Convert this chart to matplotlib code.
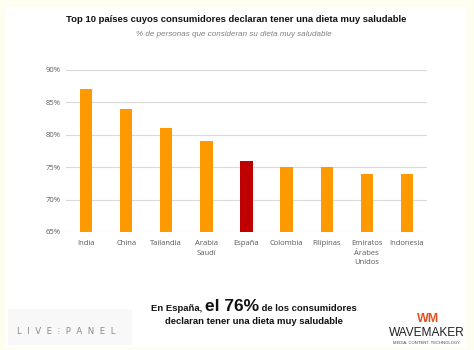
import matplotlib
matplotlib.use("Agg")
import matplotlib.pyplot as plt
from matplotlib.patches import Rectangle
import numpy as np

# datos: % de personas que consideran su dieta muy saludable
paises = ["India", "China", "Tailandia", "Arabia\nSaudí", "España", "Colombia",
          "Filipinas", "Emiratos\nÁrabes\nUnidos", "Indonesia"]
valores = [87, 84, 81, 79, 76, 75, 75, 74, 74]
destacado = "España"

naranja = "#FF9900"
rojo = "#C00000"

fig = plt.figure(figsize=(4.74, 3.5), dpi=100)
fig.patch.set_facecolor("#FDFDF0")
# panel blanco sobre el marco crema
fig.patches.append(Rectangle((5 / 474, 3 / 350), 461 / 474, 340 / 350,
                             transform=fig.transFigure, facecolor="white",
                             edgecolor="none", zorder=-2))
fig.patches.append(Rectangle((8 / 474, 5 / 350), 124 / 474, 36 / 350,
                             transform=fig.transFigure, facecolor="#F8F8F8",
                             edgecolor="none", zorder=-1))

ax = fig.add_axes([66 / 474, 1 - 232 / 350, 361 / 474, 162 / 350])
ax.set_facecolor("white")
x = np.arange(len(paises))
colores = [rojo if p == destacado else naranja for p in paises]
ax.bar(x, valores, width=0.31, color=colores, zorder=3)
ax.set_ylim(65, 90)
ax.set_xlim(-0.5, len(paises) - 0.5)
ax.set_yticks(range(65, 91, 5))
ax.set_yticklabels([f"{v}%" for v in range(65, 91, 5)])
ax.set_xticks(x)
ax.set_xticklabels(paises, linespacing=1.5)
ax.grid(axis="y", color="#D9D9D9", linewidth=0.8, zorder=0)
for s in ax.spines.values():
    s.set_visible(False)
ax.tick_params(length=0, labelsize=5.5, labelcolor="#595959")
ax.tick_params(axis="x", pad=6)
ax.tick_params(axis="y", pad=4)
for lab in ax.get_xticklabels() + ax.get_yticklabels():
    lab.set_fontfamily("Open Sans")

fig.text(0.498, 1 - 20 / 350, "Top 10 países cuyos consumidores declaran tener una dieta muy saludable",
         ha="center", va="center", fontsize=6.8, fontweight="bold",
         family="Liberation Sans", color="#111111")
fig.text(0.493, 1 - 34 / 350, "% de personas que consideran su dieta muy saludable",
         ha="center", va="center", fontsize=5.8, style="italic",
         family="Liberation Sans", color="#808080")

# mensaje inferior con la cifra destacada
fig.canvas.draw()
r = fig.canvas.get_renderer()
partes = [("En España, ", 6.8, "#111111"), ("el 76%", 12.5, "#111111"),
          (" de los consumidores", 6.8, "#111111")]
textos = []
for t, fs, c in partes:
    textos.append(fig.text(0, 1 - 311 / 350, t, fontsize=fs, fontweight="bold",
                           family="Liberation Sans", color=c, va="baseline"))
anchos = [tx.get_window_extent(r).width for tx in textos]
x0 = (254 - sum(anchos) / 2) / 474
for tx, w in zip(textos, anchos):
    tx.set_x(x0)
    x0 += w / 474
fig.text(254 / 474, 1 - 322 / 350, "declaran tener una dieta muy saludable",
         ha="center", va="center", fontsize=6.8, fontweight="bold",
         family="Liberation Sans", color="#111111")

# logos
fig.text(66 / 474, 1 - 332 / 350, "L  I  V  E  ⁝  P  A  N  E  L", ha="center", va="center",
         fontsize=6.2, family="DejaVu Sans", color="#8A8A8A")
fig.text(428 / 474, 1 - 319 / 350, "WM", ha="center", va="center",
         fontsize=9, fontweight="bold", family="Liberation Sans", color="#E8501E")
fig.text(427 / 474, 1 - 333 / 350, "WAVEMAKER", ha="center", va="center",
         fontsize=8.6, family="Liberation Sans", color="#222222")
fig.text(427 / 474, 1 - 343 / 350, "MEDIA. CONTENT. TECHNOLOGY.", ha="center", va="center",
         fontsize=3, family="Liberation Sans", color="#444444")

fig.savefig("out.png", dpi=100, facecolor=fig.get_facecolor())
